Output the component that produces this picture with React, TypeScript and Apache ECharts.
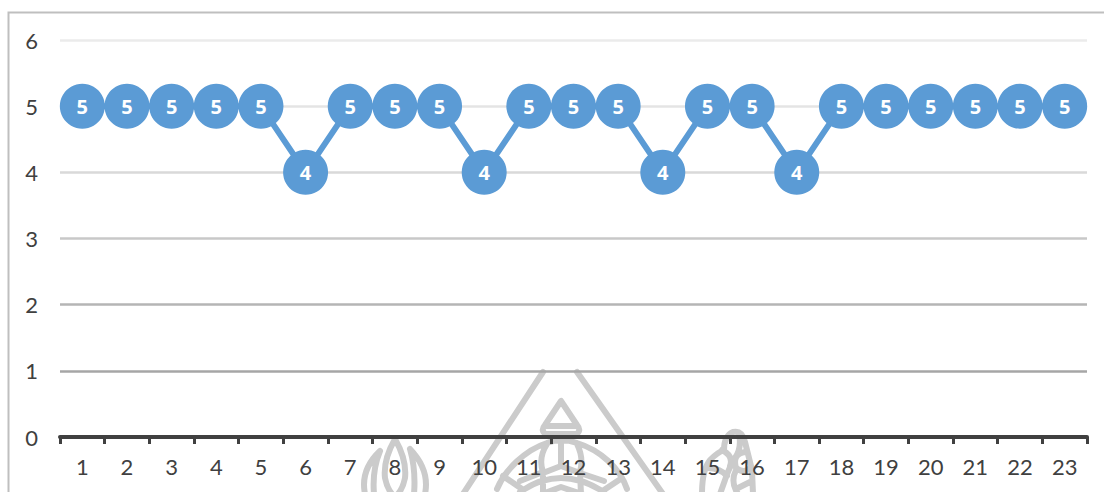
import React, { useEffect, useRef } from "react";
import * as echarts from "echarts";

const categories = ["1","2","3","4","5","6","7","8","9","10","11","12","13","14","15","16","17","18","19","20","21","22","23"];
const scores = [5,5,5,5,5,4,5,5,5,4,5,5,5,4,5,5,4,5,5,5,5,5,5];
const gridShades = ["#ffffff","#a6a6a6","#b5b5b5","#c8c8c8","#d9d9d9","#e4e4e4","#ebebeb"];

// Line-art emblem that sits behind the lower part of the plot
const emblemTriangle = "M543 372L463 494M577 372L663 494";
const emblemSpire = "M561 401L545 425Q540 431 546 434L576 434Q582 431 577 425ZM545 426L577 426";
const emblemDome =
  "M497 489C505 470 525 450 547 443Q561 437 577 443C600 450 620 468 627 489" +
  "M547 444Q538 458 543 472L543 494M577 444Q584 458 580 472L581 494" +
  "M561 438L561 466M543 473L561 466L580 473" +
  "M503 476L522 489M520 481L543 472M580 473L604 481M622 478L604 490" +
  "M520 492Q540 478 561 478Q582 478 604 492M542 494L561 487L582 494";
const emblemFlame =
  "M395 439Q383 460 385 478Q387 488 392 494M395 439Q407 460 405 478Q403 488 398 494" +
  "M380 451Q360 470 365 494M380 451Q372 470 374 494" +
  "M410 449Q430 470 425 494M410 449Q416 470 414 494";
const emblemHand =
  "M702 494Q702 470 710 460Q718 452 724 450Q724 436 733 432Q742 430 745 442L752 470L753 494" +
  "M739 434Q742 448 735 458Q728 470 725 480L720 494" +
  "M722 450Q734 456 730 466M745 452Q732 454 736 468Q744 474 750 468" +
  "M708 468Q720 468 727 476M736 470Q730 482 738 494M750 482L738 488";

echarts.graphic.registerShape("emblem", echarts.graphic.extendPath(
  [emblemTriangle, emblemSpire, emblemDome, emblemFlame, emblemHand].join(""), {}));

export default function App() {
  const ref = useRef<HTMLDivElement>(null);

  useEffect(() => {
    document.body.style.margin = "0";
    const chart = echarts.init(ref.current!, undefined, { renderer: "svg" });
    const font = "Lato, sans-serif";
    chart.setOption({
      animation: false,
      backgroundColor: "#ffffff",
      grid: { left: 60, right: 17, top: 40, bottom: 55 },
      graphic: [
        {
          type: "emblem",
          z: -1,
          silent: true,
          style: { fill: "none", stroke: "#cbcbcb", lineWidth: 6, lineJoin: "round", lineCap: "round" },
        },
        {
          type: "polyline",
          z: 10,
          silent: true,
          shape: { points: [[8.5, 492], [8.5, 12.5], [1104, 12.5]] },
          style: { fill: "none", stroke: "#bfbfbf", lineWidth: 2 },
        },
      ],
      xAxis: {
        type: "category",
        data: categories,
        boundaryGap: true,
        axisLine: { onZero: false, lineStyle: { color: "#404040", width: 4 } },
        axisTick: { show: true, alignWithLabel: false, length: 7, lineStyle: { color: "#404040", width: 3 } },
        axisLabel: { color: "#404040", fontFamily: font, fontSize: 22, margin: 18, interval: 0 },
      },
      yAxis: {
        type: "value",
        min: 0,
        max: 6,
        interval: 1,
        axisLine: { show: false },
        axisTick: { show: false },
        axisLabel: { color: "#404040", fontFamily: font, fontSize: 22, margin: 22 },
        splitLine: { show: true, lineStyle: { color: gridShades, width: 2.5 } },
      },
      series: [
        {
          type: "line",
          data: scores,
          symbol: "circle",
          symbolSize: 45,
          showAllSymbol: true,
          lineStyle: { color: "#5b9bd5", width: 6 },
          itemStyle: { color: "#5b9bd5" },
          label: {
            show: true,
            position: "inside",
            color: "#ffffff",
            fontFamily: "'Open Sans', sans-serif",
            fontWeight: 700,
            fontSize: 20,
          },
        },
      ],
    });
    return () => chart.dispose();
  }, []);

  return <div ref={ref} style={{ width: 1104, height: 492 }} />;
}
